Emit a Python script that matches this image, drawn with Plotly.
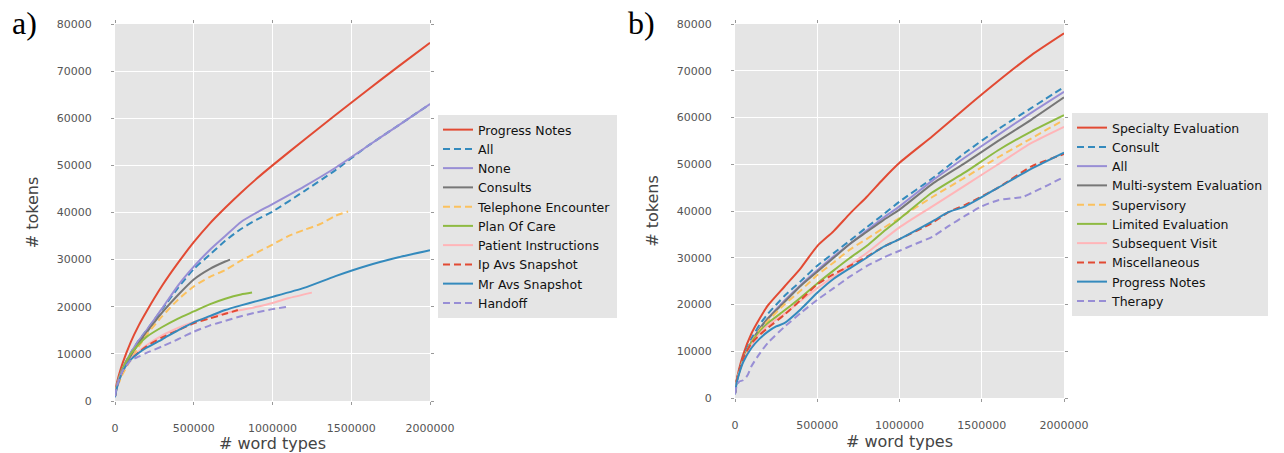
import plotly.graph_objects as go

# ---------------- Panel a data ----------------
a_names = ["Progress Notes", "All", "None", "Consults", "Telephone Encounter",
           "Plan Of Care", "Patient Instructions", "Ip Avs Snapshot", "Mr Avs Snapshot", "Handoff"]

a_progress_x = [0, 10000, 25000, 50000, 100000, 150000, 200000, 300000, 400000, 500000, 600000, 700000, 800000, 900000,
                1000000, 1200000, 1400000, 1600000, 1800000, 2000000]
a_progress_y = [1000, 3500, 5500, 8200, 12500, 16000, 19000, 24500, 29300, 33700, 37600, 41000, 44200, 47200,
                50000, 55400, 60700, 65900, 71000, 76000]

a_all_x = [0, 10000, 25000, 50000, 100000, 150000, 200000, 300000, 400000, 500000, 600000, 700000, 800000, 900000,
           1000000, 1200000, 1400000, 1600000, 1800000, 2000000]
a_all_y = [1000, 3000, 4800, 7000, 10200, 12800, 15000, 19500, 24000, 28000, 31000, 34000, 36500, 38500,
           40200, 44500, 49000, 54000, 58500, 63000]

a_none_x = [0, 10000, 25000, 50000, 100000, 150000, 200000, 300000, 400000, 500000, 600000, 700000, 800000, 900000,
            1000000, 1200000, 1400000, 1600000, 1800000, 2000000]
a_none_y = [1000, 3000, 4800, 7000, 10200, 12800, 15000, 19700, 24500, 28500, 32000, 35000, 38000, 40000,
            41800, 45500, 49500, 54000, 58500, 63000]

a_consults_x = [0, 10000, 25000, 50000, 100000, 150000, 200000, 300000, 400000, 500000, 600000, 700000, 730000]
a_consults_y = [1000, 2800, 4300, 6300, 9500, 12200, 14500, 18800, 22500, 25800, 28000, 29600, 30000]

a_tel_x = [0, 10000, 25000, 50000, 100000, 150000, 200000, 300000, 400000, 500000, 600000, 700000, 800000, 900000,
           1000000, 1100000, 1200000, 1300000, 1400000, 1480000]
a_tel_y = [1000, 2600, 3900, 5800, 8800, 11500, 14000, 18000, 21500, 24300, 26300, 27800, 29800, 31500,
           33200, 35000, 36300, 37500, 39300, 40200]

a_plan_x = [0, 10000, 25000, 50000, 100000, 150000, 200000, 300000, 400000, 500000, 600000, 700000, 800000, 870000]
a_plan_y = [1000, 3000, 4700, 7000, 10000, 12000, 13600, 15700, 17500, 19000, 20500, 21700, 22600, 23000]

a_patient_x = [0, 10000, 25000, 50000, 100000, 150000, 200000, 300000, 400000, 500000, 600000, 700000, 800000, 900000,
               1000000, 1100000, 1250000]
a_patient_y = [1000, 2800, 4500, 6500, 8900, 10500, 11800, 13900, 15500, 16800, 17800, 18600, 19300, 20000,
               20800, 21800, 23000]

a_ip_x = [0, 10000, 25000, 50000, 100000, 150000, 200000, 300000, 400000, 500000, 600000, 700000, 780000]
a_ip_y = [1000, 2800, 4500, 6500, 8800, 10300, 11600, 13500, 15000, 16500, 17500, 18500, 19300]

a_mr_x = [0, 10000, 25000, 50000, 100000, 150000, 200000, 300000, 400000, 500000, 600000, 700000, 800000, 900000,
          1000000, 1200000, 1400000, 1600000, 1800000, 2000000]
a_mr_y = [800, 2500, 4300, 6500, 8800, 10200, 11300, 13100, 15000, 16700, 18000, 19300, 20300, 21200,
          22100, 24000, 26500, 28700, 30500, 32000]

a_handoff_x = [0, 10000, 25000, 50000, 100000, 150000, 200000, 300000, 400000, 500000, 600000, 700000, 800000, 900000,
               1000000, 1100000]
a_handoff_y = [1000, 2800, 4500, 6500, 8600, 9400, 10200, 11600, 13100, 14700, 16000, 17000, 18000, 18800,
               19500, 20000]

# ---------------- Panel b data ----------------
b_names = ["Specialty Evaluation", "Consult", "All", "Multi-system Evaluation", "Supervisory",
           "Limited Evaluation", "Subsequent Visit", "Miscellaneous", "Progress Notes", "Therapy"]

b_x = [0, 10000, 25000, 50000, 100000, 150000, 200000, 300000, 400000, 500000, 600000, 700000, 800000, 900000,
       1000000, 1200000, 1400000, 1600000, 1800000, 2000000]
b_specialty_y = [1000, 3800, 6200, 9300, 13800, 17000, 19800, 23800, 27800, 32500, 35700, 39500, 43000, 46800,
                 50300, 56000, 62000, 67800, 73300, 78000]
b_consult_y = [1000, 3600, 5800, 8600, 12700, 15700, 18000, 21800, 25000, 28300, 31000, 33700, 36500, 39200,
               42000, 47000, 52500, 57500, 62000, 66500]
b_all_y = [1000, 3500, 5500, 8200, 12000, 14800, 17000, 20800, 24200, 27300, 30300, 33000, 35800, 38500,
           41000, 46500, 51500, 56300, 61000, 65500]
b_multi_y = [1000, 3500, 5500, 8200, 12000, 14800, 17000, 20500, 24000, 27000, 30000, 33000, 35500, 38000,
             40300, 45800, 50300, 55000, 59500, 64300]
b_super_y = [1000, 3500, 5500, 8200, 12000, 14500, 16500, 20000, 23000, 26300, 29000, 31800, 34000, 36300,
             38500, 43000, 47200, 51500, 55500, 59500]
b_limited_y = [1000, 3500, 5500, 8200, 11800, 14200, 16000, 18700, 21500, 24500, 27300, 30000, 32500, 35500,
               38300, 44000, 48300, 53000, 57000, 60500]
b_subsequent_y = [1000, 3500, 5400, 8000, 11300, 13700, 15500, 18000, 20800, 23500, 26000, 28500, 31000, 33800,
                  36500, 41000, 45500, 50000, 54500, 58000]

b_misc_x = [0, 10000, 25000, 50000, 100000, 150000, 200000, 300000, 400000, 500000, 600000, 700000, 800000, 900000,
            1000000, 1200000, 1300000, 1400000, 1600000, 1800000, 2000000]
b_misc_y = [1000, 3600, 5800, 8500, 11700, 13500, 15000, 17800, 21000, 24300, 26500, 28300, 30200, 32300,
            34000, 37500, 39800, 41300, 45000, 49500, 52200]

b_progress_x = [0, 10000, 25000, 50000, 100000, 150000, 200000, 250000, 300000, 400000, 500000, 600000, 700000,
                800000, 900000, 1000000, 1200000, 1300000, 1400000, 1600000, 1800000, 2000000]
b_progress_y = [800, 3200, 5200, 7700, 10700, 12700, 14200, 15300, 16000, 19000, 22500, 25500, 27800,
                30000, 32300, 34000, 37800, 39800, 41000, 45000, 49000, 52500]

b_therapy_x = [0, 10000, 25000, 50000, 75000, 100000, 150000, 200000, 300000, 400000, 500000, 600000, 700000,
               800000, 900000, 1000000, 1100000, 1200000, 1300000, 1400000, 1500000, 1600000, 1700000,
               1750000, 1800000, 1900000, 2000000]
b_therapy_y = [800, 2500, 3500, 3800, 4800, 6800, 9500, 11800, 15200, 18200, 21000, 23500, 26000,
               28200, 30000, 31500, 33000, 34500, 36800, 39000, 41000, 42300, 42800,
               43000, 43800, 45500, 47300]

x_ticks = [0, 500000, 1000000, 1500000, 2000000]
y_ticks = [0, 10000, 20000, 30000, 40000, 50000, 60000, 70000, 80000]

# ggplot-style colour cycle
RED, BLUE, PURPLE, GRAY, YELLOW, GREEN, PINK = "#E24A33", "#348ABD", "#988ED5", "#777777", "#FBC15E", "#8EBA42", "#FFB5B8"
colors = [RED, BLUE, PURPLE, GRAY, YELLOW, GREEN, PINK, RED, BLUE, PURPLE]
dashes = ["solid", "7px,4px", "solid", "solid", "7px,4px", "solid", "solid", "7px,4px", "solid", "7px,4px"]

a_series = [(a_progress_x, a_progress_y), (a_all_x, a_all_y), (a_none_x, a_none_y),
            (a_consults_x, a_consults_y), (a_tel_x, a_tel_y), (a_plan_x, a_plan_y),
            (a_patient_x, a_patient_y), (a_ip_x, a_ip_y), (a_mr_x, a_mr_y), (a_handoff_x, a_handoff_y)]
b_series = [(b_x, b_specialty_y), (b_x, b_consult_y), (b_x, b_all_y), (b_x, b_multi_y),
            (b_x, b_super_y), (b_x, b_limited_y), (b_x, b_subsequent_y), (b_misc_x, b_misc_y),
            (b_progress_x, b_progress_y), (b_therapy_x, b_therapy_y)]

fig = go.Figure()
for i, (name, (xs, ys)) in enumerate(zip(a_names, a_series)):
    fig.add_trace(go.Scatter(x=xs, y=ys, mode="lines", name=name,
                             line=dict(color=colors[i], width=2, dash=dashes[i], shape="spline", smoothing=0.6),
                             xaxis="x", yaxis="y", legend="legend"))
for i, (name, (xs, ys)) in enumerate(zip(b_names, b_series)):
    fig.add_trace(go.Scatter(x=xs, y=ys, mode="lines", name=name,
                             line=dict(color=colors[i], width=2, dash=dashes[i], shape="spline", smoothing=0.6),
                             xaxis="x2", yaxis="y2", legend="legend2"))

W, H = 1284, 453
TICKFONT = dict(family="DejaVu Sans", size=11, color="#555555")
TITLEFONT = dict(family="DejaVu Sans", size=16, color="#444444")

def xaxis(domain, anchor):
    return dict(domain=domain, anchor=anchor, range=[0, 2000000], tickvals=x_ticks,
                ticktext=[str(v) for v in x_ticks], showgrid=True, gridcolor="white", gridwidth=1,
                zeroline=False, ticks="outside", ticklen=3, tickcolor="#999999", mirror="ticks",
                tickfont=TICKFONT, ticklabelstandoff=14, automargin=False,
                title=dict(text="# word types", font=TITLEFONT, standoff=0), fixedrange=True)

def yaxis(domain, anchor):
    return dict(domain=domain, anchor=anchor, range=[0, 80000], tickvals=y_ticks,
                ticktext=[str(v) for v in y_ticks], showgrid=True, gridcolor="white", gridwidth=1,
                zeroline=False, ticks="outside", ticklen=3, tickcolor="#999999", mirror="ticks",
                tickfont=TICKFONT, ticklabelstandoff=17, automargin=False,
                title=dict(text="# tokens", font=TITLEFONT, standoff=14), fixedrange=True)

LEGFONT = dict(family="DejaVu Sans", size=12.5, color="#111111")

fig.update_layout(
    width=W, height=H, margin=dict(l=0, r=0, t=0, b=0, autoexpand=False),
    paper_bgcolor="white", plot_bgcolor="#E5E5E5",
    xaxis=xaxis([115 / W, 430 / W], "y"),
    yaxis=yaxis([(H - 401) / H, (H - 24) / H], "x"),
    xaxis2=xaxis([735 / W, 1064 / W], "y2"),
    yaxis2=yaxis([(H - 398) / H, (H - 24) / H], "x2"),
    legend=dict(x=438 / W, y=(H - 115) / H, xanchor="left", yanchor="top", bgcolor="#E5E5E5",
                font=LEGFONT, borderwidth=0, itemwidth=30, tracegroupgap=0),
    legend2=dict(x=1072 / W, y=(H - 113) / H, xanchor="left", yanchor="top", bgcolor="#E5E5E5",
                 font=LEGFONT, borderwidth=0, itemwidth=30, tracegroupgap=0),
    annotations=[
        dict(text="a)", x=10 / W, y=(H - 3) / H, xref="paper", yref="paper", xanchor="left",
             yanchor="top", showarrow=False, font=dict(family="Liberation Serif", size=32, color="black")),
        dict(text="b)", x=626 / W, y=(H - 3) / H, xref="paper", yref="paper", xanchor="left",
             yanchor="top", showarrow=False, font=dict(family="Liberation Serif", size=32, color="black")),
    ],
    showlegend=True,
)

fig.write_html("out.html", config={"displayModeBar": False},
               post_script="document.body.style.margin='0';document.body.style.overflow='hidden';")
